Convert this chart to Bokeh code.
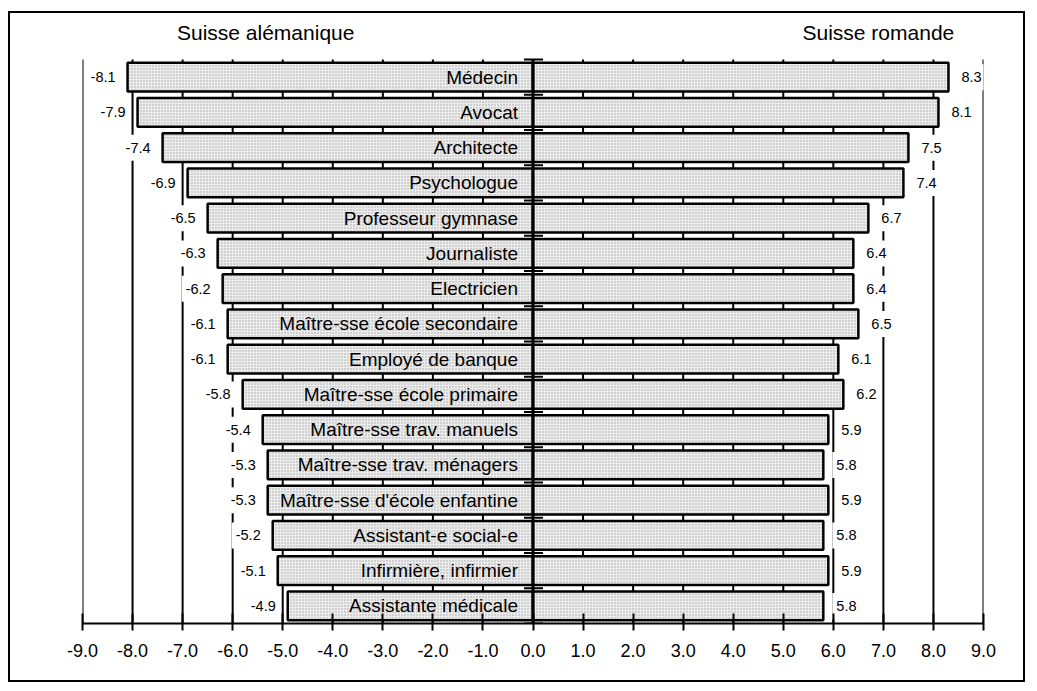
import numpy as np
from bokeh.plotting import figure
from bokeh.models import (ColumnDataSource, LabelSet, FixedTicker,
                          NumeralTickFormatter, Range1d)
from bokeh.core.properties import value
from bokeh.embed import file_html
from bokeh.resources import INLINE

categories = [
    "Médecin", "Avocat", "Architecte", "Psychologue", "Professeur gymnase",
    "Journaliste", "Electricien", "Maître-sse école secondaire",
    "Employé de banque", "Maître-sse école primaire", "Maître-sse trav. manuels",
    "Maître-sse trav. ménagers", "Maître-sse d'école enfantine",
    "Assistant-e social-e", "Infirmière, infirmier", "Assistante médicale",
]
alemanique = [-8.1, -7.9, -7.4, -6.9, -6.5, -6.3, -6.2, -6.1, -6.1, -5.8,
              -5.4, -5.3, -5.3, -5.2, -5.1, -4.9]
romande = [8.3, 8.1, 7.5, 7.4, 6.7, 6.4, 6.4, 6.5, 6.1, 6.2,
           5.9, 5.8, 5.9, 5.8, 5.9, 5.8]
x_ticks = list(range(-9, 10))
header_left = "Suisse alémanique"
header_right = "Suisse romande"

FONT = "Liberation Sans"
n = len(categories)
ypos = [n - 1 - i for i in range(n)]

src = ColumnDataSource(dict(
    y=ypos, cat=categories, left=alemanique, right=romande,
    zero=[0] * n,
    ltxt=[f"{v:.1f}" for v in alemanique],
    rtxt=[f"{v:.1f}" for v in romande],
))

# layout (pixels)
W, H = 1017, 671
ML, MR, MB = 72, 44, 61
row_px = (H - MB - 46) / n          # rows occupy the lower part of the frame
top_extra = 46 / row_px              # header band above the rows
y_top = n - 0.5 + top_extra

p = figure(width=W, height=H, output_backend="svg", toolbar_location=None,
           x_range=Range1d(x_ticks[0], x_ticks[-1]), y_range=Range1d(-0.5, y_top),
           min_border_left=ML, min_border_right=MR, min_border_top=0,
           min_border_bottom=MB)
p.styles = {"border": "2px solid black"}
p.margin = (11, 0, 0, 8)
p.outline_line_color = None
p.background_fill_color = "white"
p.border_fill_color = "white"
p.xgrid.visible = False
p.ygrid.visible = False

# axes
p.yaxis.visible = False
ax = p.xaxis[0]
ax.ticker = FixedTicker(ticks=x_ticks)
ax.formatter = NumeralTickFormatter(format="0.0")
ax.axis_line_width = 2
ax.axis_line_color = "black"
ax.major_tick_line_width = 2
ax.major_tick_line_color = "black"
ax.major_tick_in = 10
ax.major_tick_out = 7
ax.minor_tick_line_color = None
ax.major_label_text_font = FONT
ax.major_label_text_font_size = "18px"
ax.major_label_text_color = "black"
ax.major_label_standoff = 13

# vertical grid lines at each tick, limited to the rows
p.segment(x0=x_ticks, x1=x_ticks, y0=[-0.5] * len(x_ticks),
          y1=[n - 0.5] * len(x_ticks), line_color="black", line_width=2)

bar_kw = dict(height=0.82, fill_color="#ececec", line_color="black", line_width=2.5,
              hatch_pattern=".", hatch_scale=3, hatch_color="#a5a5a5", hatch_weight=1)
p.hbar(y="y", left="left", right="zero", source=src, **bar_kw)
p.hbar(y="y", left="zero", right="right", source=src, **bar_kw)

# center line and boundary ticks
p.segment(x0=[0], x1=[0], y0=[-0.5], y1=[n - 0.5], line_color="black", line_width=3)
bounds = [k - 0.5 for k in range(n + 1)]
p.segment(x0=[-0.18] * len(bounds), x1=[0.2] * len(bounds), y0=bounds, y1=bounds,
          line_color="black", line_width=2)

# category labels
p.add_layout(LabelSet(x=-0.3, y="y", text="cat", source=src, text_align="right",
                      text_baseline="middle", text_font=value(FONT),
                      text_font_size="19px", text_color="black"))

pad = dict(left=4, right=4, top=8, bottom=8)
p.text(x="left", y="y", text="ltxt", source=src, x_offset=-8,
       text_align="right", text_baseline="middle", text_font=value(FONT),
       text_font_size="14.5px", text_color="black",
       background_fill_color="white", padding=pad)
p.text(x="right", y="y", text="rtxt", source=src, x_offset=9,
       text_align="left", text_baseline="middle", text_font=value(FONT),
       text_font_size="14.5px", text_color="black",
       background_fill_color="white", padding=pad)

# headers in the band above the rows
head_y = n - 0.5 + 27 / row_px
p.text(x=[-5.34, 6.90], y=[head_y, head_y], text=[header_left, header_right],
       text_align="center", text_baseline="middle", text_font=value(FONT),
       text_font_size="21px", text_color="black")

open("out.html", "w").write(file_html(p, INLINE))
